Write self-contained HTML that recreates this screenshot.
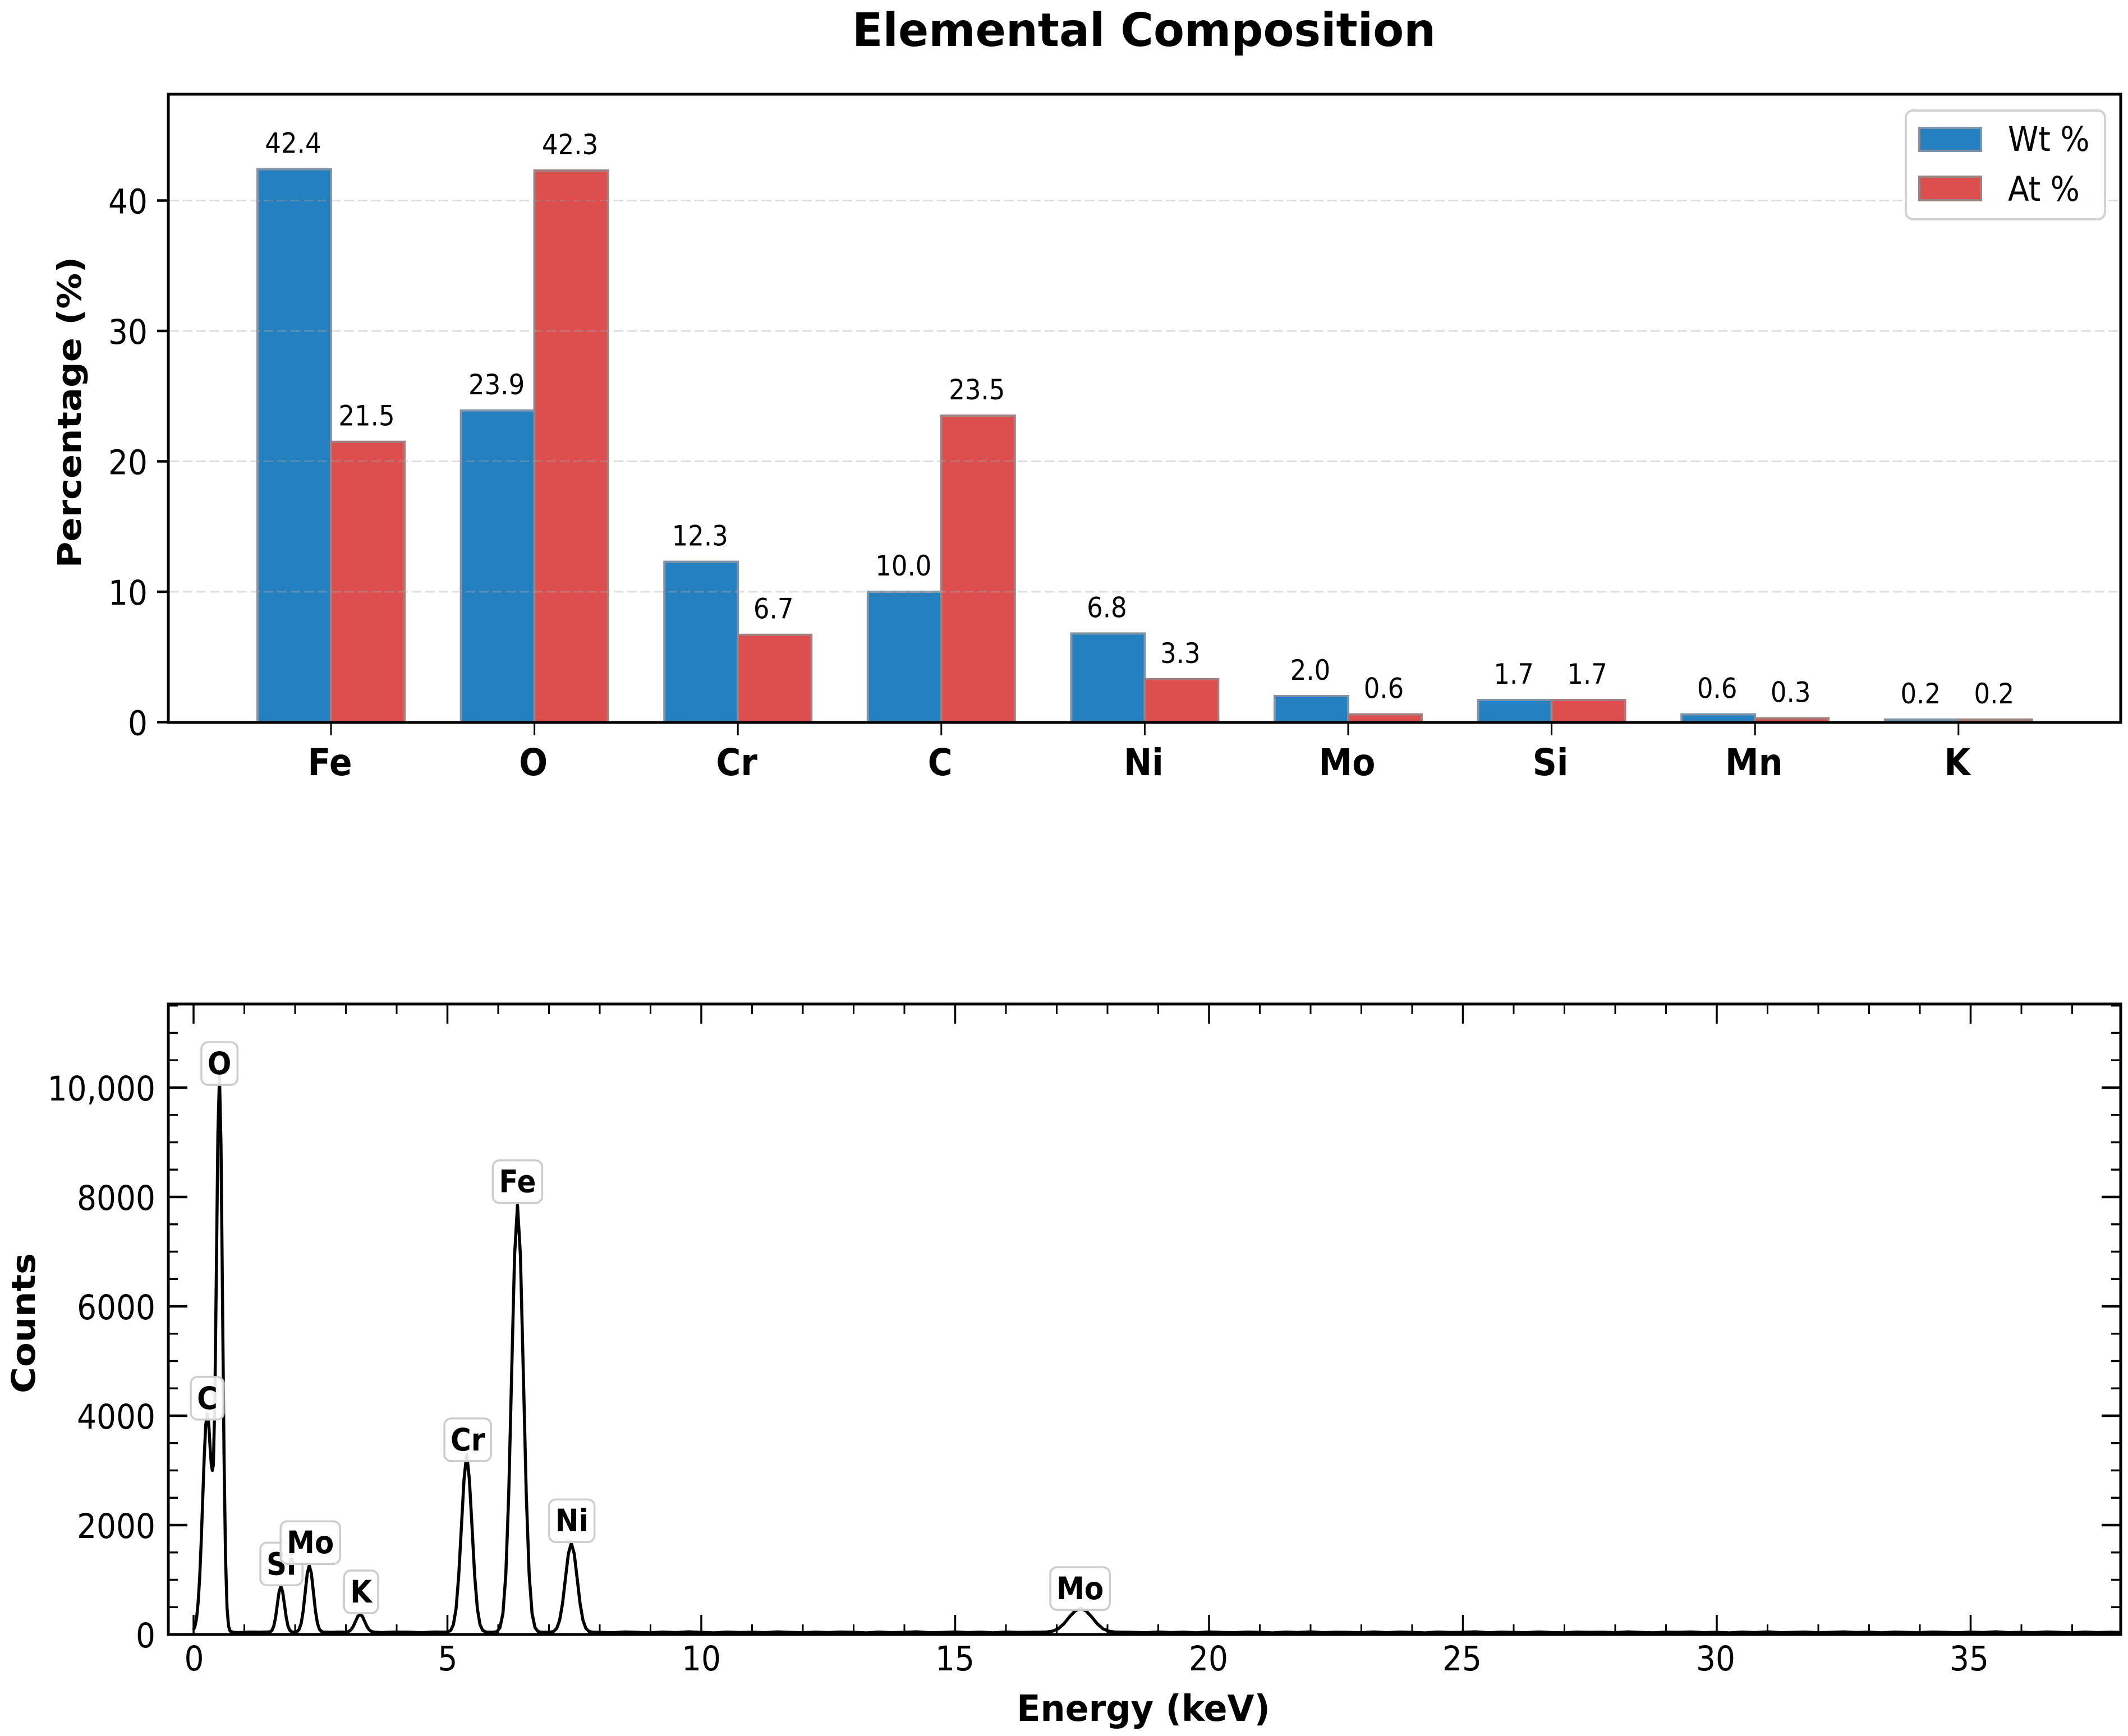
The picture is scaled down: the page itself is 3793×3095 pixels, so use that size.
<!DOCTYPE html>
<html lang="en">
<head>
<meta charset="utf-8">
<title>Elemental Composition</title>
<style>
html,body{margin:0;padding:0;background:#fff;width:3793px;height:3095px;overflow:hidden}
svg{display:block}
text{font-family:"DejaVu Sans","Liberation Sans",sans-serif;fill:#000}
</style>
</head>
<body>
<svg id="figure" xmlns="http://www.w3.org/2000/svg" width="3793" height="3095" viewBox="0 0 3793 3095">
  <defs>
    <clipPath id="spectrum-clip"><rect x="300" y="1790" width="3480" height="1124"/></clipPath>
  </defs>
  <rect x="0" y="0" width="3793" height="3095" fill="#ffffff"/>
  <text transform="translate(2039,82) scale(1,1.02)" text-anchor="middle" font-size="80" font-weight="700">Elemental Composition</text>
  <g id="bar-plot"></g>
  <g id="spectrum-plot"></g>
  <text transform="translate(144,735) scale(1,1.1) rotate(-90)" text-anchor="middle" font-size="58" font-weight="700">Percentage (%)</text>
  <text transform="translate(62,2359) scale(1,1.1) rotate(-90)" text-anchor="middle" font-size="58" font-weight="700">Counts</text>
  <text transform="translate(2038,3068) scale(1,1.03)" text-anchor="middle" font-size="62" font-weight="700">Energy (keV)</text>
  <g>
    <rect x="3397" y="197" width="355" height="194" rx="13" fill="#ffffff" fill-opacity="0.9" stroke="#d2d2d2" stroke-width="4"/>
    <rect x="3421" y="228" width="110" height="41" fill="#2580c0" stroke="#7f94a8" stroke-width="4"/>
    <text transform="translate(3579,269) scale(1,1.1)" font-size="55">Wt %</text>
    <rect x="3421" y="315" width="110" height="42" fill="#dd4f4f" stroke="#a08080" stroke-width="4"/>
    <text transform="translate(3579,358) scale(1,1.1)" font-size="55">At %</text>
  </g>
</svg>
<script>
// ---- Bar chart data ----
const elements = ["Fe","O","Cr","C","Ni","Mo","Si","Mn","K"];
const wtPercent = [42.4,23.9,12.3,10.0,6.8,2.0,1.7,0.6,0.2];
const atPercent = [21.5,42.3,6.7,23.5,3.3,0.6,1.7,0.3,0.2];
const barYTicks = [0,10,20,30,40];

// ---- Spectrum data ----
const spectrumEnergy = [
  0,.03,.06,.09,.12,.15,.18,.21,.24,.27,.30,.33,.35,.37,.39,.42,.45,.48,.51,.54,.57,.60,.63,.66,.69,.72,.78,.9,1.1,1.3,
  1.44,1.51,1.545,1.58,1.615,1.65,1.685,1.72,1.755,1.79,1.825,1.86,1.895,1.93,
  1.96,2.0,2.04,2.08,2.12,2.16,2.20,2.24,2.28,2.32,2.36,2.40,2.44,2.48,2.52,2.56,2.7,2.85,
  2.92,3.01,3.055,3.10,3.145,3.19,3.235,3.28,3.325,3.37,3.415,3.46,3.505,3.55,3.7,3.95,4.2,4.5,4.75,
  4.96,5.0,5.065,5.1175,5.17,5.2225,5.275,5.3275,5.38,5.4325,5.485,5.5375,5.59,5.6425,5.695,5.76,5.8,
  5.92,5.98,6.035,6.0925,6.15,6.2075,6.265,6.3225,6.38,6.4375,6.495,6.5525,6.61,6.6675,6.725,6.78,6.84,
  6.98,7.04,7.095,7.1525,7.21,7.2675,7.325,7.3825,7.44,7.4975,7.555,7.6125,7.67,7.7275,7.785,7.84,7.9,
  8,8.25,8.5,8.75,9,9.25,9.5,9.75,10,10.25,10.5,10.75,11,11.25,11.5,11.75,12,12.25,12.5,12.75,13,13.25,13.5,13.75,14,14.25,14.5,14.75,15,15.25,15.5,15.75,16,16.25,16.5,
  16.7,16.81,16.92,17.03,17.14,17.25,17.36,17.47,17.58,17.69,17.80,17.91,18.02,18.13,18.24,
  18.5,18.75,19,19.25,19.5,19.75,20,20.25,20.5,20.75,21,21.25,21.5,21.75,22,22.25,22.5,22.75,23,23.25,
  23.5,23.75,24,24.25,24.5,24.75,25,25.25,25.5,25.75,26,26.25,26.5,26.75,27,27.25,27.5,27.75,28,28.25,
  28.5,28.75,29,29.25,29.5,29.75,30,30.25,30.5,30.75,31,31.25,31.5,31.75,32,32.25,32.5,32.75,33,33.25,
  33.5,33.75,34,34.25,34.5,34.75,35,35.25,35.5,35.75,36,36.25,36.5,36.75,37,37.25,37.5,37.75,38
];
const spectrumCounts = [
  85,155,300,580,1035,1685,2465,3245,3825,4040,3845,3355,3100,3000,3100,4300,6680,9170,10200,8960,6150,3300,1400,480,150,62,40,35,44,41,
  45,49,77,154,313,549,781,880,781,549,313,154,77,49,
  42,43,54,94,205,436,780,1117,1260,1117,780,436,205,94,54,43,38,44,
  42,44,54,85,147,240,331,370,331,240,147,85,54,44,35,44,42,33,45,
  42,45,75,179,469,1069,1963,2838,3300,2838,1963,1069,469,179,75,45,41,
  42,57,127,383,1097,2576,4777,6932,7850,6932,4777,2576,1097,383,127,57,42,
  40,44,58,112,260,569,1029,1478,1670,1478,1029,569,260,112,58,44,40,
  40,32,46,38,31,43,35,48,39,30,44,36,41,33,47,38,32,42,35,45,39,30,44,34,40,49,32,37,46,35,42,31,45,37,40,
  42,46,62,105,195,320,430,480,430,320,195,105,62,46,42,
  39,32,45,35,42,31,47,37,33,44,40,30,43,36,48,33,41,38,32,46,
  34,43,39,30,45,36,40,49,32,42,37,33,46,35,31,44,39,41,33,47,
  37,31,42,38,46,34,40,30,44,35,48,33,39,43,32,38,47,36,42,31,
  44,37,34,45,39,32,42,36,49,34,40,33,46,38,31,43,35,41,37
];
const peakLabels = ["C","O","Si","Mo","K","Cr","Fe","Ni","Mo"];
const peakEnergies = [0.27,0.51,1.73,2.30,3.30,5.40,6.38,7.45,17.46];
const peakCounts = [3930,10050,900,1290,390,3170,7890,1690,450];
const energyTicks = [0,5,10,15,20,25,30,35];
const energyMinorTicks = [1,2,3,4,6,7,8,9,11,12,13,14,16,17,18,19,21,22,23,24,26,27,28,29,31,32,33,34,36,37];
const countTicks = [0,2000,4000,6000,8000,10000];
const countTickLabels = ["0","2000","4000","6000","8000","10,000"];
const countMinorTicks = [500,1000,1500,2500,3000,3500,4500,5000,5500,6500,7000,7500,8500,9000,9500,10500,11000,11500];

// ---- Axis functions ----
function barX(i){ return 590 + i * 362.6; }
function barY(v){ return 1287.5 - v * 23.25; }
function specX(e){ return 345 + e * 90.5; }
function specLabelX(e){ return 346 + e * 90.4; }
function specY(c){ return 2914 - c * 0.0975; }

const NS = "http://www.w3.org/2000/svg";
const barPlot = document.getElementById("bar-plot");
const specPlot = document.getElementById("spectrum-plot");

function shape(parent, tag, props){
  const el = document.createElementNS(NS, tag);
  for (const k in props) el.setAttribute(k, props[k]);
  parent.appendChild(el);
  return el;
}
function label(parent, x, y, str, size, weight, anchor, sy){
  const el = document.createElementNS(NS, "text");
  el.setAttribute("transform", "translate(" + x + "," + y + ") scale(1," + sy + ")");
  el.setAttribute("font-size", size);
  el.setAttribute("font-weight", weight);
  el.setAttribute("text-anchor", anchor);
  el.textContent = str;
  parent.appendChild(el);
  return el;
}

// ---- Bar chart ----
const BAR_W = 131;
elements.forEach(function(name, i){
  const key = name.toLowerCase();
  const cx = barX(i);
  const wtBar = shape(barPlot, "rect", {x: cx - BAR_W, y: barY(wtPercent[i]), width: BAR_W, height: barY(0) - barY(wtPercent[i]), fill: "#2580c0", stroke: "#7f94a8", "stroke-width": 4});
  
  
  const atBar = shape(barPlot, "rect", {x: cx, y: barY(atPercent[i]), width: BAR_W, height: barY(0) - barY(atPercent[i]), fill: "#dd4f4f", stroke: "#a08080", "stroke-width": 4});
  
  
  const wtText = label(barPlot, cx - BAR_W / 2 - 2, barY(wtPercent[i]) - 29, wtPercent[i].toFixed(1), 45, 400, "middle", 1.1);
  
  
  const atText = label(barPlot, cx + BAR_W / 2 - 2, barY(atPercent[i]) - 29, atPercent[i].toFixed(1), 45, 400, "middle", 1.1);
  
  
  const tick = shape(barPlot, "line", {x1: cx, x2: cx, y1: 1288, y2: 1311, stroke: "#000", "stroke-width": 3});
  
  
  const tickText = label(barPlot, cx - 2, 1382, name, 60, 700, "middle", 1.1);
  
  
});
barYTicks.forEach(function(v){
  if (v > 0) {
    const grid = shape(barPlot, "line", {x1: 302, x2: 3778, y1: barY(v), y2: barY(v), stroke: "#aaaaaa", "stroke-opacity": 0.4, "stroke-width": 3, "stroke-dasharray": "17 7"});
    
    
  }
  const tick = shape(barPlot, "line", {x1: 280, x2: 300, y1: barY(v), y2: barY(v), stroke: "#000", "stroke-width": 4.5});
  
  
  const tickText = label(barPlot, 263, barY(v) + 23, String(v), 55, 400, "end", 1.1);
  
  
});
const barFrame = shape(barPlot, "rect", {x: 300, y: 168, width: 3480, height: 1120, fill: "none", stroke: "#000", "stroke-width": 5});



// ---- Spectrum ----
const spectrumPoints = spectrumEnergy.map(function(e, i){ return specX(e).toFixed(1) + "," + specY(spectrumCounts[i]).toFixed(1); }).join(" ");
const spectrumLine = shape(specPlot, "polyline", {points: spectrumPoints, fill: "none", stroke: "#000", "stroke-width": 5.5, "stroke-linejoin": "round", "clip-path": "url(#spectrum-clip)"});



energyTicks.forEach(function(e){
  const bottom = shape(specPlot, "line", {x1: specX(e), x2: specX(e), y1: 2914, y2: 2879, stroke: "#000", "stroke-width": 3.5});
  
  
  const top = shape(specPlot, "line", {x1: specX(e), x2: specX(e), y1: 1790, y2: 1825, stroke: "#000", "stroke-width": 3.5});
  
  
  const tickText = label(specPlot, specLabelX(e), 2978, String(e), 55, 400, "middle", 1.1);
  
  
});
energyMinorTicks.forEach(function(e){
  const bottom = shape(specPlot, "line", {x1: specX(e), x2: specX(e), y1: 2914, y2: 2896, stroke: "#000", "stroke-width": 3});
  
  
  const top = shape(specPlot, "line", {x1: specX(e), x2: specX(e), y1: 1790, y2: 1808, stroke: "#000", "stroke-width": 3});
  
  
});
countTicks.forEach(function(c, i){
  const left = shape(specPlot, "line", {x1: 300, x2: 334, y1: specY(c), y2: specY(c), stroke: "#000", "stroke-width": 4.5});
  
  
  const right = shape(specPlot, "line", {x1: 3746, x2: 3780, y1: specY(c), y2: specY(c), stroke: "#000", "stroke-width": 4.5});
  
  
  const tickText = label(specPlot, 277, specY(c) + 23, countTickLabels[i], 55, 400, "end", 1.1);
  
  
});
countMinorTicks.forEach(function(c){
  const left = shape(specPlot, "line", {x1: 300, x2: 317, y1: specY(c), y2: specY(c), stroke: "#000", "stroke-width": 3.5});
  
  
  const right = shape(specPlot, "line", {x1: 3763, x2: 3780, y1: specY(c), y2: specY(c), stroke: "#000", "stroke-width": 3.5});
  
  
});

peakLabels.forEach(function(name, i){
  const group = document.createElementNS(NS, "g");
  
  
  specPlot.appendChild(group);
  const cx = specX(peakEnergies[i]);
  const bottom = specY(peakCounts[i]);
  const box = shape(group, "rect", {y: bottom - 76, height: 76, rx: 12, fill: "#ffffff", "fill-opacity": 0.9, stroke: "#cccccc", "stroke-width": 3.5});
  
  
  const txt = label(group, cx, bottom - 19, name, 50, 700, "middle", 1.1);
  
  
  const w = txt.getComputedTextLength() + 22;
  box.setAttribute("x", cx - w / 2);
  box.setAttribute("width", w);
});
const specFrame = shape(specPlot, "rect", {x: 300, y: 1790, width: 3480, height: 1124, fill: "none", stroke: "#000", "stroke-width": 5});


</script>
</body>
</html>
